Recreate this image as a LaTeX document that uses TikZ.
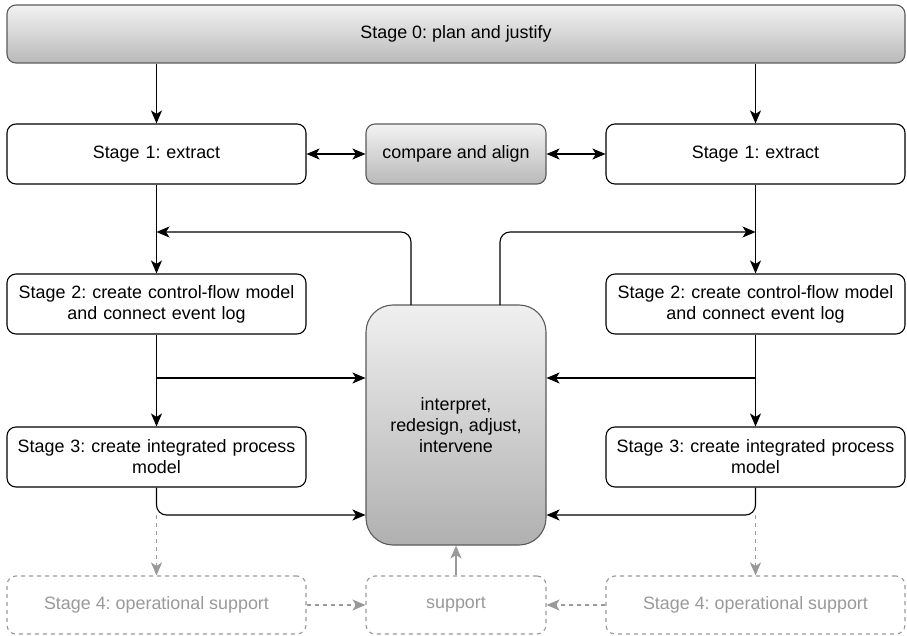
\documentclass[tikz,border=0pt]{standalone}
\usepackage{fontspec}
\setmainfont{Liberation Sans}
\usetikzlibrary{arrows.meta,calc}
\definecolor{dgray}{HTML}{999999}
\definecolor{bord}{HTML}{5A5A5A}
\frenchspacing
\begin{document}
\begin{tikzpicture}[x=1pt,y=-1pt,
  every node/.style={font=\fontsize{17.9}{21}\selectfont, align=center, inner sep=0pt},
  stagebox/.style={draw=black, line width=1.1pt, rounded corners=9pt, fill=white, minimum width=299pt, minimum height=60pt, text width=290pt},
  shadebox/.style={draw=bord, line width=1.1pt, rounded corners=9pt, top color=gray!10, bottom color=gray!55},
  ghostbox/.style={draw=dgray, line width=1.1pt, dash pattern=on 4pt off 4pt, rounded corners=9pt, text=dgray, minimum height=58pt},
  arr/.style={line width=1.1pt, draw=black, -{Stealth[length=13pt,width=11pt,inset=3.5pt]}},
  darr/.style={line width=1.1pt, draw=black, {Stealth[length=13pt,width=11pt,inset=3.5pt]}-{Stealth[length=13pt,width=11pt,inset=3.5pt]}},
  garr/.style={line width=1.1pt, draw=dgray, -{Stealth[length=13pt,width=11pt,inset=3.5pt]}},
  gdarr/.style={garr, dash pattern=on 4pt off 4pt}
]
\useasboundingbox (0,0) rectangle (907,636);
% nodes
\node[shadebox, minimum width=898pt, minimum height=58pt] (s0) at (456,34) {Stage 0: plan and justify};
\node[stagebox] (s1l) at (156.5,154) {Stage 1: extract};
\node[shadebox, minimum width=180pt, minimum height=60pt] (cmp) at (456,154) {compare and align};
\node[stagebox] (s1r) at (755.5,154) {Stage 1: extract};
\node[stagebox] (s2l) at (156.5,304) {Stage 2: create control-flow model\\and connect event log};
\node[stagebox] (s2r) at (755.5,304) {Stage 2: create control-flow model\\and connect event log};
\node[shadebox, rounded corners=27pt, minimum width=180pt, minimum height=240pt, top color=gray!12, bottom color=gray!62] (ipt) at (456,425) {interpret,\\redesign, adjust,\\intervene};
\node[stagebox] (s3l) at (156.5,457) {Stage 3: create integrated process\\model};
\node[stagebox] (s3r) at (755.5,457) {Stage 3: create integrated process\\model};
\node[ghostbox, minimum width=299pt] (s4l) at (156.5,605) {Stage 4: operational support};
\node[ghostbox, minimum width=180pt] (sup) at (456,605) {support};
\node[ghostbox, minimum width=299pt] (s4r) at (755.5,605) {Stage 4: operational support};
% coordinates
\coordinate (fbl) at (156.5,232);
\coordinate (fbr) at (755.5,232);
\coordinate (ipl) at (411,305);
\coordinate (ipr) at (500,305);
\coordinate (bl) at (156.5,378);
\coordinate (br) at (755.5,378);
\coordinate (cl) at (156.5,515);
\coordinate (cr) at (755.5,515);
% connectors
\draw[arr] (s0.south -| s1l.north) -- (s1l.north);
\draw[arr] (s0.south -| s1r.north) -- (s1r.north);
\draw[darr] (s1l.east) -- (cmp.west);
\draw[darr] (cmp.east) -- (s1r.west);
\draw[arr] (s1l.south) -- (s2l.north);
\draw[arr] (s1r.south) -- (s2r.north);
\draw[arr, rounded corners=10pt] (ipl) |- (fbl);
\draw[arr, rounded corners=10pt] (ipr) |- (fbr);
\draw[arr] (s2l.south) -- (s3l.north);
\draw[arr] (s2r.south) -- (s3r.north);
\draw[arr] (bl) -- (bl -| ipt.west);
\draw[arr] (br) -- (br -| ipt.east);
\draw[arr, rounded corners=10pt] (s3l.south) |- (cl -| ipt.west);
\draw[arr, rounded corners=10pt] (s3r.south) |- (cr -| ipt.east);
\draw[gdarr] (cl) -- (s4l.north);
\draw[gdarr] (cr) -- (s4r.north);
\draw[gdarr] (s4l.east) -- (sup.west);
\draw[gdarr] (s4r.west) -- (sup.east);
\draw[garr] (sup.north) -- (ipt.south);
\end{tikzpicture}
\end{document}
